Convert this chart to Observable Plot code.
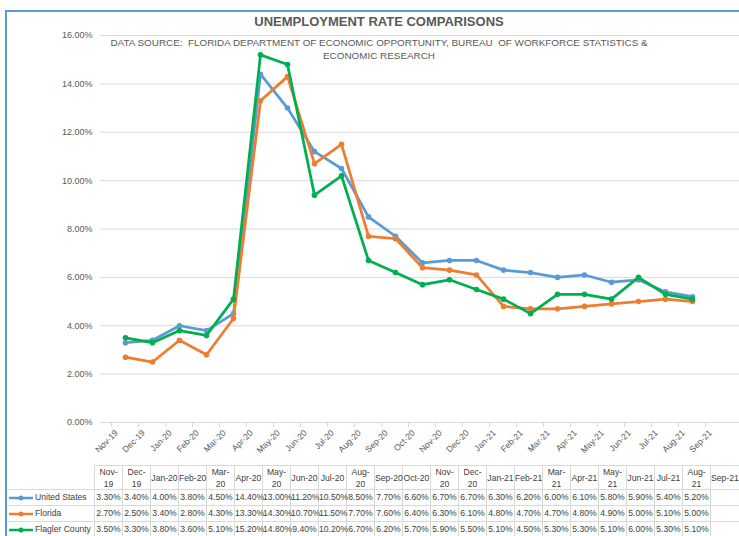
<!DOCTYPE html>
<html>
<head>
<meta charset="utf-8">
<script src="https://cdn.jsdelivr.net/npm/d3@7"></script>
<script src="https://cdn.jsdelivr.net/npm/@observablehq/plot@0.6"></script>
<style>
  body { margin: 0; background: #fff; }
  #wrap { position: relative; width: 739px; height: 536px; overflow: hidden;
          font-family: "Liberation Sans", Arial, sans-serif; color: #595959; }
  #frame { position: absolute; left: 5px; top: 10px; width: 900px; height: 700px;
           border-left: 2px solid #5b9bd5; border-top: 2px solid #5b9bd5; }
  #chart { position: absolute; left: 0; top: 0; }
  #title { position: absolute; left: 0; width: 758px; top: 15px; text-align: center;
           font-weight: bold; font-size: 13px; line-height: 14px; white-space: pre; }
  #subtitle { position: absolute; left: 0; width: 758px; top: 36px; text-align: center;
              font-size: 9.9px; line-height: 13px; white-space: pre; }
  .cell { position: absolute; box-sizing: border-box; text-align: center; white-space: nowrap;
          font-size: 8.6px; color: #404040; }
  .hline { position: absolute; height: 1px; background: #d9d9d9; }
  .vline { position: absolute; width: 1px; background: #d9d9d9; }
</style>
</head>
<body>
<div id="wrap">
  <div id="frame"></div>
  <div id="chart"></div>
  <div id="title">UNEMPLOYMENT RATE COMPARISONS</div>
  <div id="subtitle">DATA SOURCE:  FLORIDA DEPARTMENT OF ECONOMIC OPPORTUNITY, BUREAU  OF WORKFORCE STATISTICS &amp;
ECONOMIC RESEARCH</div>
</div>
<script>
const months = ["Nov-19","Dec-19","Jan-20","Feb-20","Mar-20","Apr-20","May-20","Jun-20","Jul-20","Aug-20","Sep-20","Oct-20",
                "Nov-20","Dec-20","Jan-21","Feb-21","Mar-21","Apr-21","May-21","Jun-21","Jul-21","Aug-21","Sep-21"];
const headerLabels = ["Nov-\n19","Dec-\n19","Jan-20","Feb-20","Mar-\n20","Apr-20","May-\n20","Jun-20","Jul-20","Aug-\n20","Sep-20","Oct-20",
                      "Nov-\n20","Dec-\n20","Jan-21","Feb-21","Mar-\n21","Apr-21","May-\n21","Jun-21","Jul-21","Aug-\n21","Sep-21"];
const seriesNames = ["United States", "Florida", "Flagler County"];
const seriesColors = ["#5b9bd5", "#ed7d31", "#00b050"];
const usValues      = [3.3,3.4,4.0,3.8,4.5,14.4,13.0,11.2,10.5,8.5,7.7,6.6,6.7,6.7,6.3,6.2,6.0,6.1,5.8,5.9,5.4,5.2];
const floridaValues = [2.7,2.5,3.4,2.8,4.3,13.3,14.3,10.7,11.5,7.7,7.6,6.4,6.3,6.1,4.8,4.7,4.7,4.8,4.9,5.0,5.1,5.0];
const flaglerValues = [3.5,3.3,3.8,3.6,5.1,15.2,14.8,9.4,10.2,6.7,6.2,5.7,5.9,5.5,5.1,4.5,5.3,5.3,5.1,6.0,5.3,5.1];
const yTicks = [0, 2, 4, 6, 8, 10, 12, 14, 16];

const seriesValues = [usValues, floridaValues, flaglerValues];
const data = seriesNames.flatMap((name, i) =>
  seriesValues[i].map((v, j) => ({month: months[j], value: v, series: name})));

const FONT = '"Liberation Sans", Arial, sans-serif';
const xRange = [100, 743];
const step = (xRange[1] - xRange[0]) / months.length;

const chart = Plot.plot({
  width: 739, height: 536,
  marginTop: 35, marginBottom: 114, marginLeft: 100, marginRight: 0,
  style: {fontFamily: FONT, background: "transparent", color: "#595959", overflow: "visible"},
  x: {type: "point", domain: months, range: xRange, padding: 0.5},
  y: {domain: [0, 16]},
  color: {domain: seriesNames, range: seriesColors},
  marks: [
    Plot.gridY(yTicks, {stroke: "#d9d9d9", strokeOpacity: 1, strokeWidth: 1}),
    Plot.ruleY([0], {stroke: "#d9d9d9", strokeWidth: 1}),
    Plot.axisY(yTicks, {tickSize: 0, tickPadding: 8, tickFormat: d => d.toFixed(2) + "%", fontSize: 9, label: null}),
    Plot.axisX(months, {tickSize: 5, tickFormat: () => "", dx: -step / 2, stroke: "#d9d9d9", strokeOpacity: 1, label: null}),
    Plot.axisX(months, {tickSize: 0, tickRotate: -45, tickPadding: 9, dx: -9, fontSize: 8.6, label: null}),
    ...seriesNames.flatMap(name => [
      Plot.line(data.filter(d => d.series === name), {x: "month", y: "value", stroke: "series", strokeWidth: 2.75}),
      Plot.dot(data.filter(d => d.series === name), {x: "month", y: "value", fill: "series", r: 2.8})
    ])
  ]
});
document.getElementById("chart").appendChild(chart);

// Data table under the chart
const wrap = d3.select("#wrap");
const tableTop = 465, headerH = 24, rowH = 16, col0 = 94, colW = 28, leftX = 7;
const rowTops = seriesNames.map((_, i) => tableTop + headerH + i * rowH);

rowTops.forEach(t => wrap.append("div").attr("class", "hline")
  .style("left", leftX + "px").style("top", t + "px").style("width", (739 - leftX) + "px"));
wrap.append("div").attr("class", "hline")
  .style("left", col0 + "px").style("top", tableTop + "px").style("width", (739 - col0) + "px");
months.forEach((m, j) => wrap.append("div").attr("class", "vline")
  .style("left", (col0 + j * colW) + "px").style("top", tableTop + "px").style("height", (536 - tableTop) + "px"));

headerLabels.forEach((lab, j) => {
  const two = lab.includes("\n");
  wrap.append("div").attr("class", "cell")
    .style("left", (col0 + j * colW + 1) + "px").style("top", (tableTop + (two ? 1 : 7)) + "px")
    .style("width", (colW - 1) + "px").style("line-height", "12px").style("white-space", "pre")
    .text(lab);
});

seriesNames.forEach((name, i) => {
  const t = rowTops[i];
  const key = wrap.append("div").attr("class", "cell")
    .style("left", leftX + "px").style("top", (t + 1) + "px").style("width", (col0 - leftX) + "px")
    .style("height", (rowH - 1) + "px").style("line-height", (rowH - 1) + "px").style("text-align", "left");
  const svg = key.append("svg").attr("width", 26).attr("height", 8)
    .style("vertical-align", "middle").style("margin-left", "1px").style("margin-right", "1px");
  svg.append("line").attr("x1", 1).attr("x2", 25).attr("y1", 4).attr("y2", 4)
    .attr("stroke", seriesColors[i]).attr("stroke-width", 2.5);
  svg.append("circle").attr("cx", 13).attr("cy", 4).attr("r", 2.5).attr("fill", seriesColors[i]);
  key.append("span").text(name).style("vertical-align", "middle");
  seriesValues[i].forEach((v, j) => {
    wrap.append("div").attr("class", "cell")
      .style("left", (col0 + j * colW + 1) + "px").style("top", (t + 1) + "px")
      .style("width", (colW - 1) + "px").style("line-height", (rowH - 1) + "px")
      .text(v.toFixed(2) + "%");
  });
});
</script>
</body>
</html>
